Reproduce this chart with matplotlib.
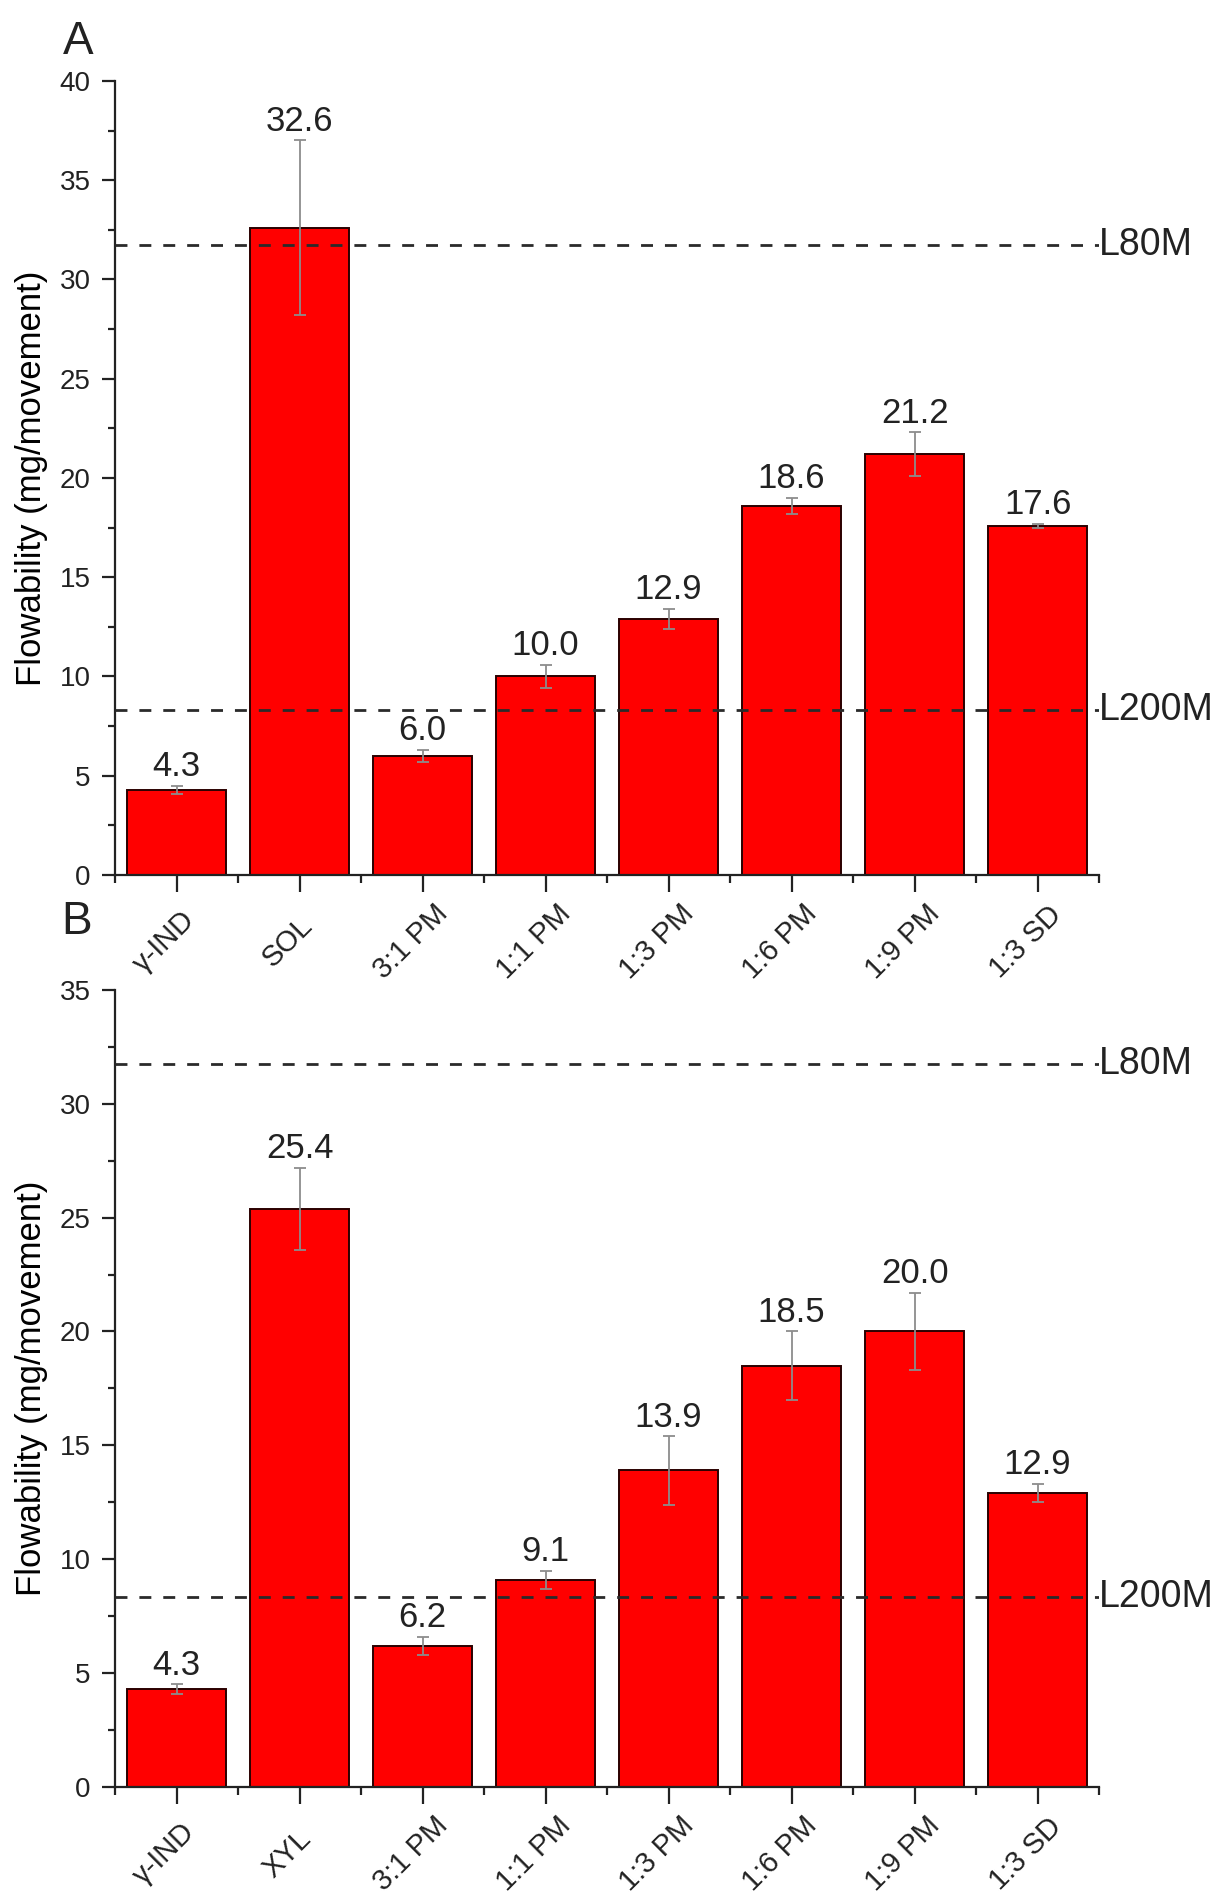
import numpy as np
import matplotlib
matplotlib.use('Agg')
import matplotlib.pyplot as plt
import matplotlib.transforms as mtransforms
from matplotlib.ticker import MultipleLocator, FixedLocator

plt.rcParams['font.family'] = ['Liberation Sans', 'DejaVu Sans']
plt.rcParams['text.color'] = '#222222'

# Datos de fluidez (mg/movimiento), media y desviación
categorias_a = ['γ-IND', 'SOL', '3:1 PM', '1:1 PM', '1:3 PM', '1:6 PM', '1:9 PM', '1:3 SD']
valores_a = [4.3, 32.6, 6.0, 10.0, 12.9, 18.6, 21.2, 17.6]
errores_a = [0.2, 4.4, 0.3, 0.6, 0.5, 0.4, 1.1, 0.1]

categorias_b = ['γ-IND', 'XYL', '3:1 PM', '1:1 PM', '1:3 PM', '1:6 PM', '1:9 PM', '1:3 SD']
valores_b = [4.3, 25.4, 6.2, 9.1, 13.9, 18.5, 20.0, 12.9]
errores_b = [0.2, 1.8, 0.4, 0.4, 1.5, 1.5, 1.7, 0.4]

# Límites de referencia de los tamices
nombres_limite = ['L80M', 'L200M']
valores_limite = [31.75, 8.33]


def graficar_panel(ax, categorias, valores, errores, ymax):
    x = np.arange(len(categorias))
    ax.bar(x, valores, width=0.8, color='#ff0000', edgecolor='#2a0000',
           linewidth=1.4, zorder=2)
    ax.errorbar(x, valores, yerr=errores, fmt='none', ecolor='#8c8c8c',
                elinewidth=1.3, capsize=4, capthick=1.3, zorder=3)

    for i, (v, e) in enumerate(zip(valores, errores)):
        ax.annotate(f'{v:.1f}', (i, v + e), xytext=(0, 7), textcoords='offset points',
                    ha='center', va='baseline', fontsize=25)

    trans = mtransforms.blended_transform_factory(ax.transAxes, ax.transData)
    for nombre, y in zip(nombres_limite, valores_limite):
        ax.axhline(y, color='#2a2a2a', linewidth=2.0, linestyle=(0, (4.3, 4.3)), zorder=4)
        ax.text(1.0, y, nombre, transform=trans, ha='left', va='center',
                fontsize=27, clip_on=False)

    ax.set_xlim(-0.5, len(categorias) - 0.5)
    ax.set_ylim(0, ymax)

    for lado in ['top', 'right']:
        ax.spines[lado].set_visible(False)
    for lado in ['left', 'bottom']:
        ax.spines[lado].set_linewidth(1.6)
        ax.spines[lado].set_color('#222222')

    ax.yaxis.set_major_locator(MultipleLocator(5))
    ax.yaxis.set_minor_locator(MultipleLocator(2.5))
    ax.tick_params(axis='y', which='major', length=9.5, width=1.6, pad=8,
                   labelsize=20, colors='#222222')
    ax.tick_params(axis='y', which='minor', length=5, width=1.6, colors='#222222')

    ax.set_xticks(x)
    ax.xaxis.set_minor_locator(FixedLocator(np.arange(-0.5, len(categorias), 1)))
    ax.tick_params(axis='x', which='major', length=12, width=1.6, pad=36,
                   labelsize=21, colors='#222222')
    ax.tick_params(axis='x', which='minor', length=5.5, width=1.6, colors='#222222')
    ax.set_xticklabels(categorias, rotation=45, ha='center', va='center',
                       rotation_mode='anchor')
    desplazamiento = mtransforms.ScaledTranslation(-0.12, 0, ax.figure.dpi_scale_trans)
    for etiqueta in ax.get_xticklabels():
        etiqueta.set_transform(etiqueta.get_transform() + desplazamiento)

    ax.set_ylabel('Flowability (mg/movement)', fontsize=25)
    ax.yaxis.label.set_verticalalignment('center')
    ax.yaxis.set_label_coords(-0.085, 0.5)


fig = plt.figure(figsize=(12.2, 19), dpi=100)
ax_a = fig.add_axes([0.0943, 0.5395, 0.8066, 0.4179])
ax_b = fig.add_axes([0.0943, 0.0595, 0.8066, 0.4195])

graficar_panel(ax_a, categorias_a, valores_a, errores_a, 40)
graficar_panel(ax_b, categorias_b, valores_b, errores_b, 35)

fig.text(0.0516, 0.9716, 'A', fontsize=33, ha='left', va='baseline')
fig.text(0.0500, 0.5084, 'B', fontsize=33, ha='left', va='baseline')

fig.savefig('out.png', dpi=100)
